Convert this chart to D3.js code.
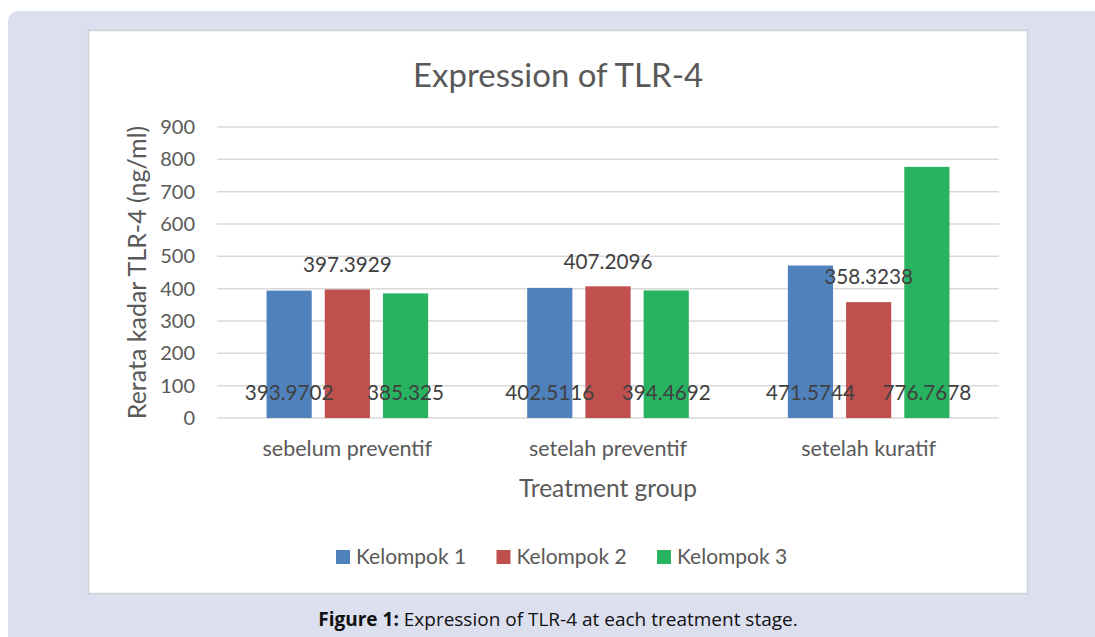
<!DOCTYPE html>
<html>
<head>
<meta charset="utf-8">
<script src="https://cdn.jsdelivr.net/npm/d3@7"></script>
<style>
  body { margin: 0; background: #fff; }
  text { font-family: Lato, "Open Sans", sans-serif; }
</style>
</head>
<body>
<script>
// chart data
var categories = ["sebelum preventif", "setelah preventif", "setelah kuratif"];
var seriesNames = ["Kelompok 1", "Kelompok 2", "Kelompok 3"];
var kelompok1 = [393.9702, 402.5116, 471.5744];
var kelompok2 = [397.3929, 407.2096, 358.3238];
var kelompok3 = [385.325, 394.4692, 776.7678];
var yTicks = [0, 100, 200, 300, 400, 500, 600, 700, 800, 900];
var colors = ["#4f81bd", "#c0504d", "#27b360"];

var width = 1095, height = 637;
var margin = {top: 127, right: 96, bottom: 218, left: 217};

var svg = d3.select("body").append("svg")
  .attr("width", width)
  .attr("height", height);

// lavender page block + white chart panel
svg.append("rect")
  .attr("x", 8).attr("y", 11)
  .attr("width", width + 20).attr("height", height)
  .attr("rx", 10)
  .style("fill", "#dcdfee");

svg.append("rect")
  .attr("x", 88.5).attr("y", 30.5)
  .attr("width", 939).attr("height", 563)
  .style("fill", "#fff")
  .style("stroke", "#cfd1d8")
  .style("stroke-width", 1.5);

var allSeries = [kelompok1, kelompok2, kelompok3];

var x0 = d3.scaleBand()
  .domain(categories)
  .range([margin.left, width - margin.right]);

var x1 = d3.scaleBand()
  .domain(seriesNames)
  .range([x0.bandwidth() * 0.19, x0.bandwidth() * 0.81])
  .paddingInner(0.224);

var y = d3.scaleLinear()
  .domain([0, 900])
  .range([height - margin.bottom - 1, margin.top]);

// gridlines
svg.append("g")
  .selectAll("line")
  .data(yTicks)
  .enter()
  .append("line")
  .attr("x1", margin.left)
  .attr("x2", width - margin.right)
  .attr("y1", function(d) { return y(d); })
  .attr("y2", function(d) { return y(d); })
  .style("stroke", "#d9d9d9")
  .style("stroke-width", 1.5);

// y tick labels
svg.append("g")
  .selectAll("text")
  .data(yTicks)
  .enter()
  .append("text")
  .attr("x", margin.left - 22)
  .attr("y", function(d) { return y(d); })
  .attr("dy", "0.35em")
  .attr("text-anchor", "end")
  .style("font-size", "20px")
  .style("fill", "#595959")
  .text(function(d) { return d; });

// bars
var groups = svg.append("g")
  .selectAll("g")
  .data(categories)
  .enter()
  .append("g")
  .attr("transform", function(d) { return "translate(" + x0(d) + ",0)"; });

groups.selectAll("rect")
  .data(function(d, i) {
    return seriesNames.map(function(s, j) { return {s: s, j: j, v: allSeries[j][i]}; });
  })
  .enter()
  .append("rect")
  .attr("x", function(d) { return x1(d.s); })
  .attr("width", x1.bandwidth())
  .attr("y", function(d) { return y(d.v); })
  .attr("height", function(d) { return y(0) - y(d.v); })
  .style("fill", function(d) { return colors[d.j]; });

// data labels (placed as in the original: series 2 above bar, others near base)
groups.selectAll("text")
  .data(function(d, i) {
    return seriesNames.map(function(s, j) { return {s: s, j: j, v: allSeries[j][i]}; });
  })
  .enter()
  .append("text")
  .attr("x", function(d) { return x1(d.s) + x1.bandwidth() / 2; })
  .attr("y", function(d) { return d.j == 1 ? y(d.v) - 25 : y(0) - 25; })
  .attr("dy", "0.35em")
  .attr("text-anchor", "middle")
  .style("font-size", "20.7px")
  .style("fill", "#404040")
  .text(function(d) { return d.v; });

// category labels
svg.append("g")
  .selectAll("text")
  .data(categories)
  .enter()
  .append("text")
  .attr("x", function(d) { return x0(d) + x0.bandwidth() / 2; })
  .attr("y", y(0) + 30)
  .attr("dy", "0.35em")
  .attr("text-anchor", "middle")
  .style("font-size", "21.5px")
  .style("fill", "#595959")
  .text(function(d) { return d; });

// title
svg.append("text")
  .attr("x", 558)
  .attr("y", 75)
  .attr("dy", "0.35em")
  .attr("text-anchor", "middle")
  .style("font-size", "33px")
  .style("fill", "#595959")
  .text("Expression of TLR-4");

// axis titles
svg.append("text")
  .attr("x", (margin.left + width - margin.right) / 2)
  .attr("y", 488)
  .attr("dy", "0.35em")
  .attr("text-anchor", "middle")
  .style("font-size", "24.5px")
  .style("fill", "#595959")
  .text("Treatment group");

svg.append("text")
  .attr("transform", "translate(137," + (y(0) + y(900)) / 2 + ") rotate(-90)")
  .attr("dy", "0.35em")
  .attr("text-anchor", "middle")
  .style("font-size", "25px")
  .style("fill", "#595959")
  .text("Rerata kadar TLR-4 (ng/ml)");

// legend
var legend = svg.append("g")
  .selectAll("g")
  .data(seriesNames)
  .enter()
  .append("g")
  .attr("transform", function(d, i) { return "translate(" + (336 + i * 160.5) + ",557)"; });

legend.append("rect")
  .attr("x", 0).attr("y", -7)
  .attr("width", 14).attr("height", 14)
  .style("fill", function(d, i) { return colors[i]; });

legend.append("text")
  .attr("x", 20)
  .attr("dy", "0.35em")
  .style("font-size", "21px")
  .style("fill", "#595959")
  .text(function(d) { return d; });

// caption
var cap = svg.append("text")
  .attr("x", 558)
  .attr("y", 626)
  .attr("text-anchor", "middle")
  .style("font-family", "'Open Sans', sans-serif")
  .style("font-size", "19px")
  .style("fill", "#111");
cap.append("tspan").style("font-weight", "bold").text("Figure 1:");
cap.append("tspan").text(" Expression of TLR-4 at each treatment stage.");
</script>
</body>
</html>
